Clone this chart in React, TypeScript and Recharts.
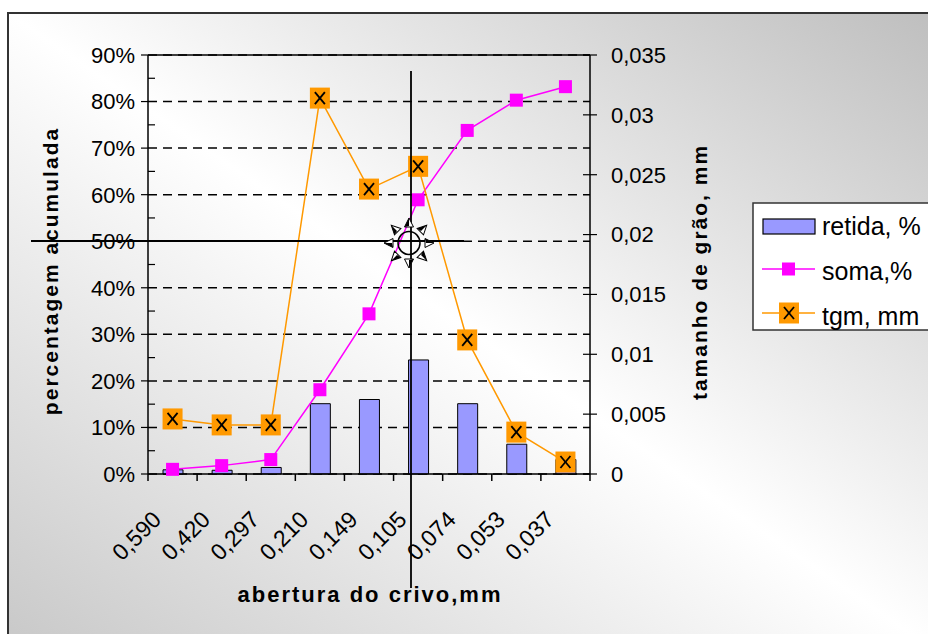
import React from 'react';
import { ComposedChart, Bar, Line, XAxis, YAxis, CartesianGrid, ReferenceLine } from 'recharts';

const categories = ['0,590', '0,420', '0,297', '0,210', '0,149', '0,105', '0,074', '0,053', '0,037'];
const retida = [0.9, 0.8, 1.4, 15.1, 16.0, 24.5, 15.1, 6.4, 3.1];
const soma = [1.0, 1.8, 3.1, 18.1, 34.4, 58.9, 73.8, 80.3, 83.2];
const tgm = [0.0046, 0.0041, 0.0041, 0.0314, 0.0238, 0.0257, 0.0112, 0.0035, 0.001];

const leftTicks = [0, 10, 20, 30, 40, 50, 60, 70, 80, 90];
const rightTicks = [0, 0.005, 0.01, 0.015, 0.02, 0.025, 0.03, 0.035];

const data = categories.map((c, i) => ({ size: c, retida: retida[i], soma: soma[i], tgm: tgm[i] }));

const FONT = '"Liberation Sans", Arial, sans-serif';
const TICK_LEN = 7;
const LEFT_MARGIN = 6;
const RIGHT_MARGIN = 14;

const SomaDot = (props: any) => {
  const { cx, cy, index } = props;
  if (cx == null || cy == null) return null;
  return <rect key={`s${index}`} x={cx - 6.5} y={cy - 6.5} width={13} height={13} fill="#FF00FF" />;
};

const TgmDot = (props: any) => {
  const { cx, cy, index } = props;
  if (cx == null || cy == null) return null;
  return (
    <g key={`t${index}`}>
      <rect x={cx - 10} y={cy - 10.5} width={20} height={21} fill="#FF9900" />
      <line x1={cx - 5} y1={cy - 6} x2={cx + 5} y2={cy + 6} stroke="#000" strokeWidth={1.8} />
      <line x1={cx + 5} y1={cy - 6} x2={cx - 5} y2={cy + 6} stroke="#000" strokeWidth={1.8} />
    </g>
  );
};

const XTick = (props: any) => {
  const { x, y, payload, index, width, visibleTicksCount } = props;
  const band = width && visibleTicksCount ? width / visibleTicksCount : 0;
  const ax = x - 10;
  const ay = y + 47;
  return (
    <g>
      {band > 0 && <line x1={x - band / 2} y1={y} x2={x - band / 2} y2={y + TICK_LEN} stroke="#000" strokeWidth={1.5} />}
      {band > 0 && index === visibleTicksCount - 1 && (
        <line x1={x + band / 2} y1={y} x2={x + band / 2} y2={y + TICK_LEN} stroke="#000" strokeWidth={1.5} />
      )}
      <text x={ax} y={ay} transform={`rotate(-45 ${ax} ${ay})`} textAnchor="end" fontSize={23} fontFamily={FONT} fill="#000">
        {payload.value}
      </text>
    </g>
  );
};

const LeftTick = (props: any) => {
  const { x, y, payload, index, height, visibleTicksCount } = props;
  const axisX = x + TICK_LEN + LEFT_MARGIN;
  const step = height && visibleTicksCount > 1 ? height / (visibleTicksCount - 1) : 0;
  return (
    <g>
      {step > 0 && index > 0 && (
        <line x1={axisX} y1={y + step / 2} x2={axisX + TICK_LEN} y2={y + step / 2} stroke="#000" strokeWidth={1.2} />
      )}
      <text x={x} y={y} dy="0.36em" textAnchor="end" fontSize={22} fontFamily={FONT} fill="#000">
        {`${payload.value}%`}
      </text>
    </g>
  );
};

const RightTick = (props: any) => {
  const { x, y, payload } = props;
  const axisX = x - TICK_LEN - RIGHT_MARGIN;
  return (
    <g>
      <line x1={axisX - TICK_LEN} y1={y} x2={axisX} y2={y} stroke="#000" strokeWidth={1.2} />
      <text x={x} y={y} dy="0.36em" textAnchor="start" fontSize={22} fontFamily={FONT} fill="#000">
        {String(payload.value).replace('.', ',')}
      </text>
    </g>
  );
};

const Sun = ({ cx, cy }: { cx: number; cy: number }) => {
  const rays = [0, 45, 90, 135, 180, 225, 270, 315];
  return (
    <g>
      {rays.map((a) => (
        <g key={a} transform={`rotate(${a} ${cx} ${cy})`}>
          <polygon points={`${cx},${cy - 25} ${cx - 4.5},${cy - 16} ${cx + 4.5},${cy - 16}`} fill="#fff" stroke="#000" strokeWidth={1} />
          <polygon points={`${cx},${cy - 25} ${cx - 4.5},${cy - 16} ${cx},${cy - 17}`} fill="#000" />
        </g>
      ))}
      <ellipse cx={cx} cy={cy} rx={11} ry={11.5} fill="none" stroke="#000" strokeWidth={1.5} />
    </g>
  );
};

export default function App() {
  return (
    <div style={{ position: 'absolute', left: 0, top: 0, width: 928, height: 634, overflow: 'hidden', fontFamily: FONT }}>
      <svg width={928} height={634} style={{ position: 'absolute', left: 0, top: 0 }}>
        <defs>
          <linearGradient id="bg" x1="0" y1="1" x2="1" y2="0">
            <stop offset="0" stopColor="#c6c6c6" />
            <stop offset="0.5" stopColor="#ffffff" />
            <stop offset="1" stopColor="#bcbcbc" />
          </linearGradient>
        </defs>
        <rect x={0} y={0} width={928} height={634} fill="#fff" />
        <rect x={8} y={13} width={960} height={660} fill="url(#bg)" stroke="#333" strokeWidth={2} />
      </svg>
      <div style={{ position: 'absolute', left: 0, top: 0 }}>
        <ComposedChart width={928} height={634} data={data} margin={{ top: 55, right: 278, bottom: 80, left: 88 }}>
          <XAxis dataKey="size" type="category" height={80} tickLine={false} axisLine={{ stroke: '#000', strokeWidth: 1.5 }} tickSize={0} tickMargin={0} tick={<XTick />} interval={0} />
          <YAxis yAxisId="left" orientation="left" width={60} domain={[0, 90]} ticks={leftTicks} tickSize={TICK_LEN} tickMargin={LEFT_MARGIN} axisLine={{ stroke: '#000', strokeWidth: 1.5 }} tickLine={{ stroke: '#000', strokeWidth: 1.2 }} tick={<LeftTick />} interval={0} />
          <YAxis yAxisId="right" orientation="right" width={60} domain={[0, 0.035]} ticks={rightTicks} tickSize={TICK_LEN} tickMargin={RIGHT_MARGIN} axisLine={{ stroke: '#000', strokeWidth: 1.5 }} tickLine={{ stroke: '#000', strokeWidth: 1.2 }} tick={<RightTick />} interval={0} />
          <CartesianGrid yAxisId="left" vertical={false} stroke="#000" strokeWidth={1.5} strokeDasharray="9 6" />
          <ReferenceLine yAxisId="left" y={90} stroke="#000" strokeWidth={1.5} />
          <Bar yAxisId="left" dataKey="retida" fill="#9999FF" stroke="#000" strokeWidth={1} barSize={20} isAnimationActive={false} />
          <Line yAxisId="left" dataKey="soma" stroke="#FF00FF" strokeWidth={1.5} dot={SomaDot} activeDot={false} isAnimationActive={false} />
          <Line yAxisId="right" dataKey="tgm" stroke="#FF9900" strokeWidth={1.5} dot={TgmDot} activeDot={false} isAnimationActive={false} />
        </ComposedChart>
      </div>
      <svg width={928} height={634} style={{ position: 'absolute', left: 0, top: 0, pointerEvents: 'none' }} fontFamily={FONT}>
        <line x1={31} y1={241} x2={464} y2={241} stroke="#000" strokeWidth={1.8} />
        <line x1={411} y1={71} x2={411} y2={588} stroke="#000" strokeWidth={1.8} />
        <Sun cx={409} cy={243} />
        <text transform="translate(58 271) rotate(-90)" textAnchor="middle" fontSize={21} fontWeight="bold" letterSpacing={2} fill="#000">percentagem acumulada</text>
        <text transform="translate(707 272) rotate(-90)" textAnchor="middle" fontSize={21} fontWeight="bold" letterSpacing={2} fill="#000">tamanho de grão, mm</text>
        <text x={370} y={602} textAnchor="middle" fontSize={22} fontWeight="bold" letterSpacing={2} fill="#000">abertura do crivo,mm</text>
        <rect x={753} y={203} width={200} height={127} fill="#fff" stroke="#333" strokeWidth={1.5} />
        <rect x={763} y={219} width={52} height={15} fill="#9999FF" stroke="#000" strokeWidth={1.2} />
        <text x={822} y={235} fontSize={25} fill="#000">retida, %</text>
        <line x1={762} y1={269} x2={815} y2={269} stroke="#FF00FF" strokeWidth={1.5} />
        <rect x={782} y={262.5} width={13} height={13} fill="#FF00FF" />
        <text x={822} y={280} fontSize={25} fill="#000">soma,%</text>
        <line x1={762} y1={313} x2={815} y2={313} stroke="#FF9900" strokeWidth={1.5} />
        <rect x={779} y={302.5} width={20} height={21} fill="#FF9900" />
        <line x1={784} y1={307} x2={794} y2={319} stroke="#000" strokeWidth={1.8} />
        <line x1={794} y1={307} x2={784} y2={319} stroke="#000" strokeWidth={1.8} />
        <text x={822} y={325} fontSize={25} fill="#000">tgm, mm</text>
      </svg>
    </div>
  );
}
